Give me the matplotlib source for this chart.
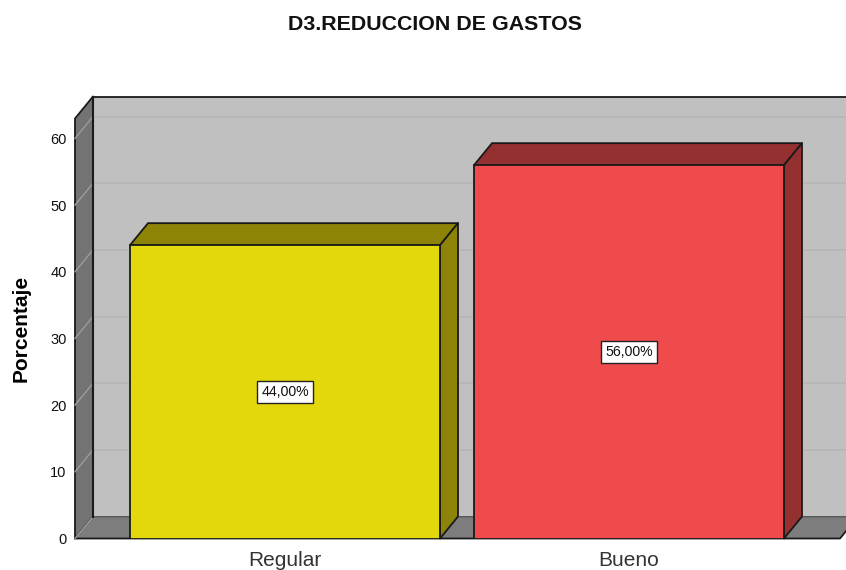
import matplotlib
matplotlib.use("Agg")
import matplotlib.pyplot as plt
from matplotlib.patches import Polygon

categories = ["Regular", "Bueno"]
values = [44.0, 56.0]
labels = ["44,00%", "56,00%"]
yticks = [0, 10, 20, 30, 40, 50, 60]
face_colors = ["#e3d80c", "#ef4b4d"]
side_colors = ["#8d8307", "#94302f"]

W, H = 846, 570
plt.rcParams["font.family"] = ["Liberation Sans", "DejaVu Sans"]
fig = plt.figure(figsize=(W / 100, H / 100), dpi=100)

L, R, B, T = 75, 846, 538.5, 118.5
ax = fig.add_axes([L / W, 1 - B / H, (R - L) / W, (B - T) / H])
ymax = 63
ax.set_ylim(0, ymax)
spacing = 344.0
ax.set_xlim((L - 285) / spacing, (R - 285) / spacing)
ax.patch.set_alpha(0)
for s in ax.spines.values():
    s.set_visible(False)

x0, x1 = ax.get_xlim()
dx = 18 / spacing
dy = 22 * ymax / (B - T)
EC = "#1a1a1a"
far = x1 + 1


def poly(pts, fc, ec=EC, lw=1.3, z=1):
    ax.add_patch(Polygon(pts, closed=True, facecolor=fc, edgecolor=ec, linewidth=lw,
                         zorder=z, clip_on=False, joinstyle="round"))


# back wall, left wall, floor
poly([(x0 + dx, dy), (far, dy), (far, ymax + dy), (x0 + dx, ymax + dy)], "#c0c0c0", z=1)
poly([(x0, 0), (x0 + dx, dy), (x0 + dx, ymax + dy), (x0, ymax)], "#737373", z=2)
floor_end = x1 - 6 / spacing
poly([(x0, 0), (floor_end, 0), (floor_end + dx, dy), (x0 + dx, dy)], "#7d7d7d", ec="none", lw=0, z=2)
ax.plot([x0, floor_end, floor_end + dx], [0, 0, dy], color=EC, lw=1.3, zorder=2.5, clip_on=False)
ax.plot([x0 + dx, x1], [dy, dy], color="#6e6e6e", lw=1.0, zorder=2.5, clip_on=False)
ax.plot([x0 + dx, x0 + dx], [dy, ymax + dy], color=EC, lw=1.5, zorder=3, clip_on=False)

# gridlines on the walls
for t in yticks[1:]:
    ax.plot([x0 + dx, x1], [t + dy, t + dy], color="#b6b6b6", lw=1.2, zorder=1.5, clip_on=False)
for t in yticks:
    ax.plot([x0, x0 + dx], [t, t + dy], color="#a0a0a0", lw=0.9, zorder=2.6, clip_on=False)

# bars
width = 310 / spacing
xs = list(range(len(categories)))
for x, v, fc, sc, lab in zip(xs, values, face_colors, side_colors, labels):
    a, b = x - width / 2, x + width / 2
    poly([(a, v), (b, v), (b + dx, v + dy), (a + dx, v + dy)], sc, z=4)
    poly([(b, 0), (b + dx, dy), (b + dx, v + dy), (b, v)], sc, z=4)
    ax.bar(x, v, width=width, color=fc, edgecolor=EC, linewidth=1.3, zorder=5)
    ax.text(x, v / 2, lab, ha="center", va="center", fontsize=10.2, color="#111111", zorder=6,
            bbox=dict(boxstyle="square,pad=0.3", facecolor="white", edgecolor="#222222", linewidth=1))

ax.set_xticks(xs)
ax.set_xticklabels(categories, fontsize=15, color="#333333")
ax.set_yticks(yticks)
ax.set_yticklabels([str(t) for t in yticks], fontsize=10.5, color="#111111")
ax.tick_params(axis="x", length=0, pad=9)
ax.tick_params(axis="y", length=0, pad=6)
ax.set_ylabel("Porcentaje", fontsize=15, fontweight="bold", labelpad=0)
ax.yaxis.set_label_coords((31 - L) / (R - L), (B - 328) / (B - T))

fig.text(435 / W, 1 - 25 / H, "D3.REDUCCION DE GASTOS", fontsize=15.4, fontweight="bold",
         ha="center", va="center", color="#111111")
fig.savefig("out.png", dpi=100, facecolor="white")
